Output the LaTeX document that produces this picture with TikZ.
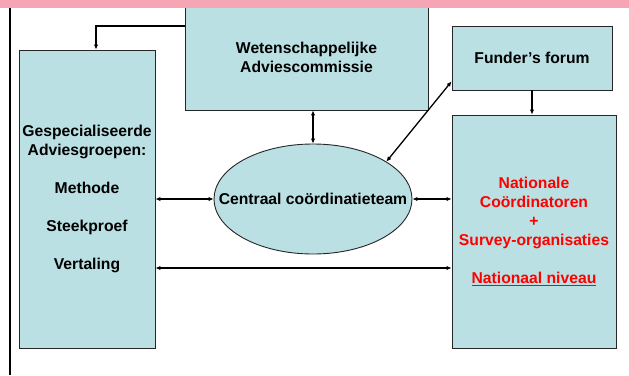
\documentclass[tikz,border=0pt]{standalone}
\usepackage{fontspec}
\setmainfont{Liberation Sans}
\usetikzlibrary{arrows.meta,shapes.geometric,calc}
\definecolor{boxblue}{RGB}{186,224,227}
\definecolor{bandpink}{RGB}{246,165,180}
\definecolor{natred}{RGB}{255,0,0}

\begin{document}
\begin{tikzpicture}[x=1pt,y=-1pt,
    box/.style={draw=black!85,line width=0.9pt,fill=boxblue,inner sep=0pt,align=center,
      font=\bfseries\fontsize{15.7}{19}\selectfont},
    arr/.style={-{Latex[length=5pt,width=4.5pt]},line width=1.3pt},
    arrs/.style={{Latex[length=5pt,width=4.5pt]}-{Latex[length=5pt,width=4.5pt]},line width=1.3pt}]
  \useasboundingbox (0,0) rectangle (629,375);
  % boxes
  \node[box,minimum width=243,minimum height=105] (wac) at (306.5,57.5) {Wetenschappelijke\\Adviescommissie};
  \node[box,minimum width=136,minimum height=298] (gesp) at (87,199)
    {Gespecialiseerde\\Adviesgroepen:\\[19pt]Methode\\[19pt]Steekproef\\[19pt]Vertaling};
  \node[box,minimum width=160,minimum height=64] (ff) at (532,58) {Funder’s forum};
  \node[box,minimum width=164,minimum height=233,text=natred] (nat) at (534,231.5)
    {Nationale\\Coördinatoren\\+\\Survey-organisaties\\[19pt]\underline{Nationaal niveau}};
  \node[box,ellipse,minimum width=198,minimum height=110] (cct) at (313,199) {};
  \node[font=\bfseries\fontsize{15.7}{19}\selectfont] (cctlab) at (cct) {Centraal coördinatieteam};
  % band and margin line
  \fill[bandpink] (0,0) rectangle (629,7.5);
  \draw[line width=1.8pt] (10,7.5) -- (10,375);
  % connectors
  \coordinate (bend) at (96,26);
  \coordinate (low) at (300,268);
  \draw[arr] (wac.west |- bend) -- (bend) -- (bend |- gesp.north);
  \draw[arrs] (cct.north) -- (cct.north |- wac.south);
  \draw[arrs] (gesp.east |- cct.west) -- (cct.west);
  \draw[arrs] (cct.east) -- (nat.west |- cct.east);
  \draw[arrs] (gesp.east |- low) -- (nat.west |- low);
  \draw[arr] (ff.south) -- (ff.south |- nat.north);
  \draw[arrs] (cct.27) -- ($(ff.south west)+(0,-9)$);
\end{tikzpicture}
\end{document}
